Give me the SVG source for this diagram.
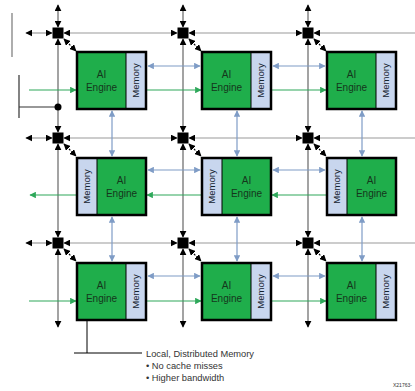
<svg xmlns="http://www.w3.org/2000/svg" width="415" height="391" viewBox="0 0 415 391">
<style>
.bg{fill:#fff}
.eng{fill:#1fae4b}
.mem{fill:#c8d6ee}
.frame{fill:none;stroke:#000;stroke-width:2.5}
.div{stroke:#000;stroke-width:1}
.t{font-family:"Liberation Sans",Arial,sans-serif;font-size:10px;fill:#15361c;text-anchor:middle}
.tm{font-family:"Liberation Sans",Arial,sans-serif;font-size:9.5px;fill:#15232e;text-anchor:middle}
.sw{fill:#000}
.g{stroke:#9a9a9a;stroke-width:1.2;fill:none}
.gv{stroke:#666;stroke-width:1.2;fill:none}
.dg{stroke:#000;stroke-width:1.2;fill:none;stroke-dasharray:2,1.5}
.b2{stroke:#7f9cc6;stroke-width:1.2;fill:none;marker-start:url(#mb);marker-end:url(#mb)}
.gr{stroke:#2ea85a;stroke-width:1.2;fill:none;marker-end:url(#mg)}
.k2{marker-start:url(#mk);marker-end:url(#mk)}
.k1{marker-end:url(#mk)}
.note{font-family:"Liberation Sans",Arial,sans-serif;font-size:9.3px;fill:#333}
</style>
<defs>
<marker id="mk" viewBox="0 0 10 10" refX="9" refY="5" markerWidth="7" markerHeight="7" markerUnits="userSpaceOnUse" orient="auto-start-reverse"><path d="M0,0L10,5L0,10z" fill="#000"/></marker>
<marker id="mb" viewBox="0 0 10 10" refX="9" refY="5" markerWidth="6.5" markerHeight="6.5" markerUnits="userSpaceOnUse" orient="auto-start-reverse"><path d="M0,0L10,5L0,10z" fill="#7f9cc6"/></marker>
<marker id="mg" viewBox="0 0 10 10" refX="9" refY="5" markerWidth="6.5" markerHeight="6.5" markerUnits="userSpaceOnUse" orient="auto-start-reverse"><path d="M0,0L10,5L0,10z" fill="#2ea85a"/></marker>
</defs>
<rect class="bg" x="0" y="0" width="415" height="391"/>

<g id="connectors">
<g class="gv">
<path class="k2" d="M58,5V27"/><path class="k2" d="M58,39V132"/><path class="k2" d="M58,144V237"/><path class="k2" d="M58,249V327"/>
<path class="k2" d="M183,5V27"/><path class="k2" d="M183,39V132"/><path class="k2" d="M183,144V237"/><path class="k2" d="M183,249V327"/>
<path class="k2" d="M308,5V27"/><path class="k2" d="M308,39V132"/><path class="k2" d="M308,144V237"/><path class="k2" d="M308,249V327"/>
</g>
<g class="g">
<path class="k2" d="M26,33H52"/><path class="k2" d="M64,33H177"/><path class="k2" d="M189,33H302"/><path class="k1" d="M415,33H314"/>
<path class="k2" d="M26,138H52"/><path class="k2" d="M64,138H177"/><path class="k2" d="M189,138H302"/><path class="k1" d="M415,138H314"/>
<path class="k2" d="M26,243H52"/><path class="k2" d="M64,243H177"/><path class="k2" d="M189,243H302"/><path class="k1" d="M415,243H314"/>
</g>
<g class="dg">
<path class="k2" d="M64,39L76,51"/><path class="k2" d="M189,39L201,51"/><path class="k2" d="M314,39L326,51"/>
<path class="k2" d="M64,144L76,156"/><path class="k2" d="M189,144L201,156"/><path class="k2" d="M314,144L326,156"/>
<path class="k2" d="M64,249L76,261"/><path class="k2" d="M189,249L201,261"/><path class="k2" d="M314,249L326,261"/>
</g>
<path class="b2" d="M148,66H200"/><path class="b2" d="M273,66H325"/>
<path class="b2" d="M148,170H200"/><path class="b2" d="M273,170H325"/>
<path class="b2" d="M148,276H200"/><path class="b2" d="M273,276H325"/>
<path class="b2" d="M112,111V156"/><path class="b2" d="M237,111V156"/><path class="b2" d="M362,111V156"/>
<path class="b2" d="M112,217V261"/><path class="b2" d="M237,217V261"/><path class="b2" d="M362,217V261"/>
<path class="gr" d="M29,90H76"/><path class="gr" d="M147,90H201"/><path class="gr" d="M272,90H326"/>
<path class="gr" d="M76,195H30"/><path class="gr" d="M201,195H147"/><path class="gr" d="M326,195H272"/>
<path class="gr" d="M29,301H76"/><path class="gr" d="M147,301H201"/><path class="gr" d="M272,301H326"/>
<path d="M12,13V57" stroke="#777" stroke-width="1.2" fill="none"/>
<path d="M19,75V118M19,107H58" stroke="#333" stroke-width="1.2" fill="none"/>
<circle cx="58" cy="107" r="3.5" fill="#000"/>
<path d="M87,321V353M74,353H142" stroke="#000" stroke-width="1" fill="none"/>
</g>

<g id="switches">
<rect class="sw" x="52.5" y="27.5" width="11" height="11"/><rect class="sw" x="177.5" y="27.5" width="11" height="11"/><rect class="sw" x="302.5" y="27.5" width="11" height="11"/>
<rect class="sw" x="52.5" y="132.5" width="11" height="11"/><rect class="sw" x="177.5" y="132.5" width="11" height="11"/><rect class="sw" x="302.5" y="132.5" width="11" height="11"/>
<rect class="sw" x="52.5" y="237.5" width="11" height="11"/><rect class="sw" x="177.5" y="237.5" width="11" height="11"/><rect class="sw" x="302.5" y="237.5" width="11" height="11"/>
</g>

<g id="tile-r1c1"><rect class="eng" x="77" y="52" width="49" height="57"/><rect class="mem" x="126" y="52" width="20" height="57"/><path class="div" d="M126,52V109"/><rect class="frame" x="77" y="52" width="69" height="57"/><text class="t" x="101.5" y="78">AI</text><text class="t" x="101.5" y="91">Engine</text><text class="tm" transform="translate(139.4,80.5) rotate(-90)">Memory</text></g>
<g id="tile-r1c2"><rect class="eng" x="202" y="52" width="49" height="57"/><rect class="mem" x="251" y="52" width="20" height="57"/><path class="div" d="M251,52V109"/><rect class="frame" x="202" y="52" width="69" height="57"/><text class="t" x="226.5" y="78">AI</text><text class="t" x="226.5" y="91">Engine</text><text class="tm" transform="translate(264.4,80.5) rotate(-90)">Memory</text></g>
<g id="tile-r1c3"><rect class="eng" x="327" y="52" width="49" height="57"/><rect class="mem" x="376" y="52" width="20" height="57"/><path class="div" d="M376,52V109"/><rect class="frame" x="327" y="52" width="69" height="57"/><text class="t" x="351.5" y="78">AI</text><text class="t" x="351.5" y="91">Engine</text><text class="tm" transform="translate(389.4,80.5) rotate(-90)">Memory</text></g>
<g id="tile-r2c1"><rect class="mem" x="77" y="158" width="20" height="57"/><rect class="eng" x="97" y="158" width="49" height="57"/><path class="div" d="M97,158V215"/><rect class="frame" x="77" y="158" width="69" height="57"/><text class="t" x="121.5" y="184">AI</text><text class="t" x="121.5" y="197">Engine</text><text class="tm" transform="translate(90.4,186.5) rotate(-90)">Memory</text></g>
<g id="tile-r2c2"><rect class="mem" x="202" y="158" width="20" height="57"/><rect class="eng" x="222" y="158" width="49" height="57"/><path class="div" d="M222,158V215"/><rect class="frame" x="202" y="158" width="69" height="57"/><text class="t" x="246.5" y="184">AI</text><text class="t" x="246.5" y="197">Engine</text><text class="tm" transform="translate(215.4,186.5) rotate(-90)">Memory</text></g>
<g id="tile-r2c3"><rect class="mem" x="327" y="158" width="20" height="57"/><rect class="eng" x="347" y="158" width="49" height="57"/><path class="div" d="M347,158V215"/><rect class="frame" x="327" y="158" width="69" height="57"/><text class="t" x="371.5" y="184">AI</text><text class="t" x="371.5" y="197">Engine</text><text class="tm" transform="translate(340.4,186.5) rotate(-90)">Memory</text></g>
<g id="tile-r3c1"><rect class="eng" x="77" y="263" width="49" height="57"/><rect class="mem" x="126" y="263" width="20" height="57"/><path class="div" d="M126,263V320"/><rect class="frame" x="77" y="263" width="69" height="57"/><text class="t" x="101.5" y="289">AI</text><text class="t" x="101.5" y="302">Engine</text><text class="tm" transform="translate(139.4,291.5) rotate(-90)">Memory</text></g>
<g id="tile-r3c2"><rect class="eng" x="202" y="263" width="49" height="57"/><rect class="mem" x="251" y="263" width="20" height="57"/><path class="div" d="M251,263V320"/><rect class="frame" x="202" y="263" width="69" height="57"/><text class="t" x="226.5" y="289">AI</text><text class="t" x="226.5" y="302">Engine</text><text class="tm" transform="translate(264.4,291.5) rotate(-90)">Memory</text></g>
<g id="tile-r3c3"><rect class="eng" x="327" y="263" width="49" height="57"/><rect class="mem" x="376" y="263" width="20" height="57"/><path class="div" d="M376,263V320"/><rect class="frame" x="327" y="263" width="69" height="57"/><text class="t" x="351.5" y="289">AI</text><text class="t" x="351.5" y="302">Engine</text><text class="tm" transform="translate(389.4,291.5) rotate(-90)">Memory</text></g>

<g id="note">
<text class="note" x="146" y="357">Local, Distributed Memory</text>
<text class="note" x="146" y="369">• No cache misses</text>
<text class="note" x="146" y="381">• Higher bandwidth</text>
<text x="393" y="387" font-family="Liberation Sans, Arial, sans-serif" font-size="5px" fill="#333">X21763-</text>
</g>
</svg>
